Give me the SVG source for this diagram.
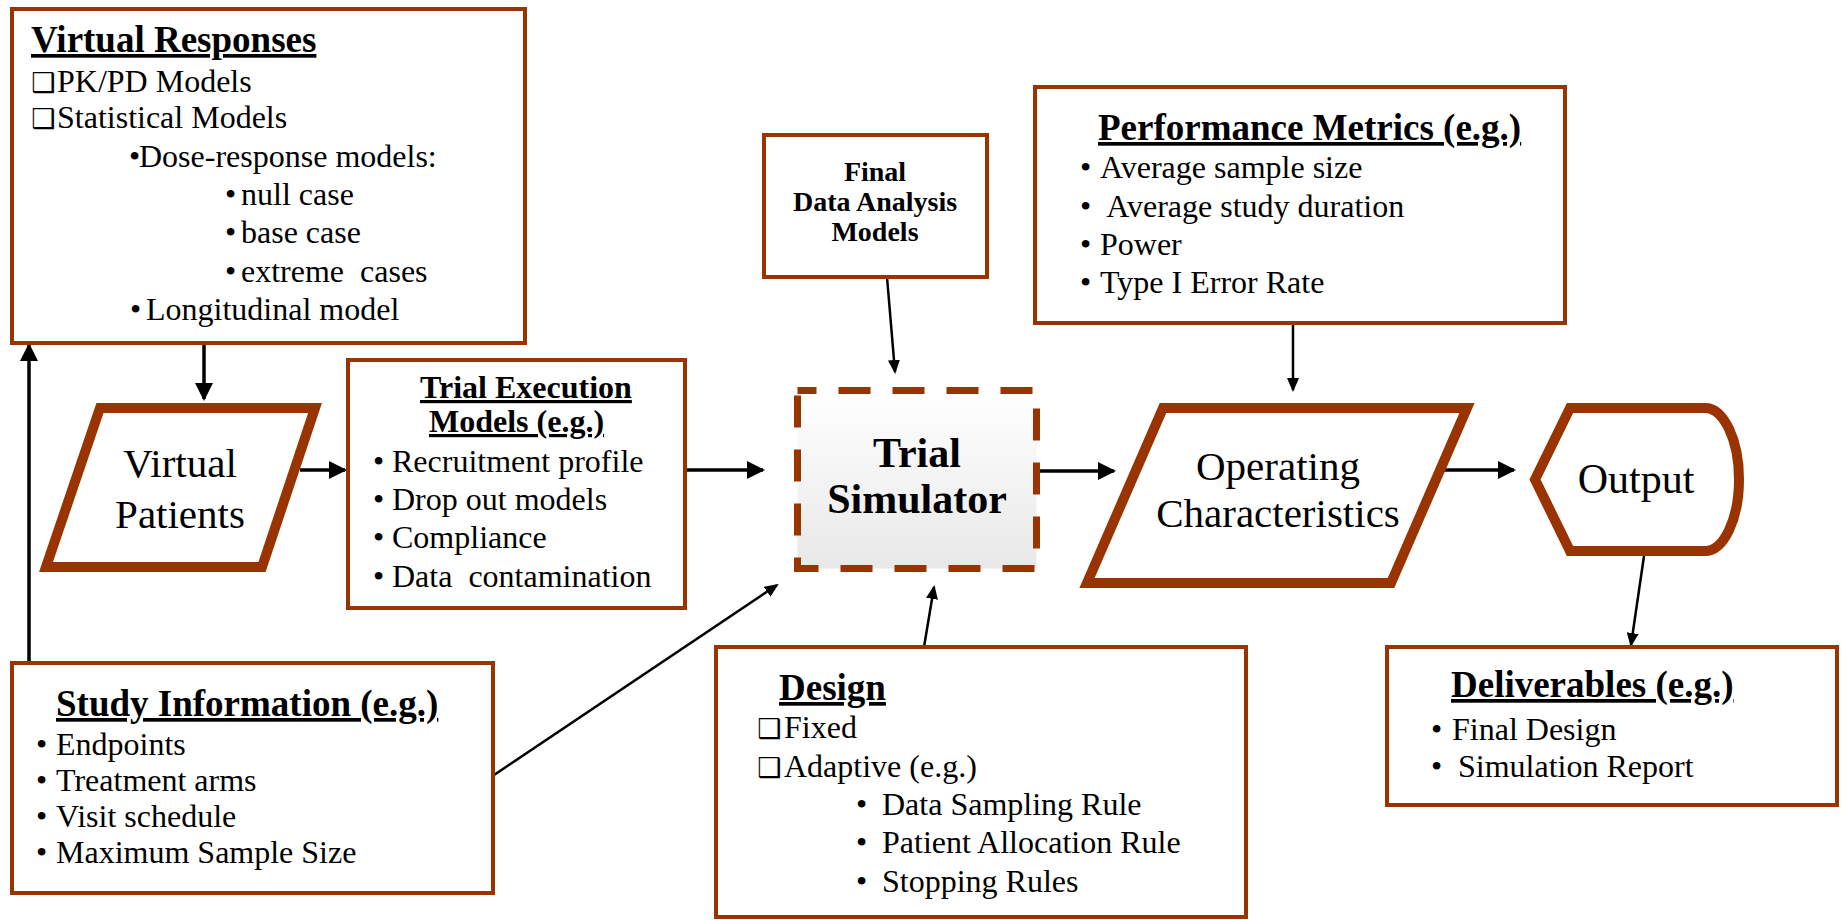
<svg xmlns="http://www.w3.org/2000/svg" width="1843" height="920" viewBox="0 0 1843 920">
<style>
.box{fill:#fff;stroke:#993300;stroke-width:4}
.thick{fill:#fff;stroke:#993300;stroke-width:10;stroke-linejoin:miter}
.dash{fill:url(#tsg);stroke:#993300;stroke-width:7;stroke-dasharray:32 22;stroke-dashoffset:13}
.t{font-family:"Liberation Serif","Times New Roman",serif;font-size:32px;fill:#000;white-space:pre}
.h{font-weight:bold;font-size:37px;text-decoration:underline}
.h2{font-weight:bold;font-size:32px;text-decoration:underline}
.big{font-size:41px}
.bb{font-weight:bold;font-size:42px}
.fd{font-weight:bold;font-size:28px}
.c{text-anchor:middle}
.cb{font-family:"DejaVu Sans",sans-serif;font-size:27px;font-weight:bold}
.con{stroke:#000;fill:none}
.w3{stroke-width:3.5}
.w2{stroke-width:2.5}
</style>
<defs>
<linearGradient id="tsg" x1="0" y1="0" x2="0" y2="1">
<stop offset="0" stop-color="#ffffff"/>
<stop offset="1" stop-color="#e8e8e8"/>
</linearGradient>
<marker id="ah" markerUnits="userSpaceOnUse" markerWidth="18" markerHeight="18" refX="16" refY="9" orient="auto"><path d="M0,0 L18,9 L0,18 z" fill="#000"/></marker>
<marker id="as" markerUnits="userSpaceOnUse" markerWidth="14" markerHeight="12" refX="12" refY="6" orient="auto"><path d="M0,0 L14,6 L0,12 z" fill="#000"/></marker>
</defs>
<rect width="1843" height="920" fill="#fff"/>

<g id="connectors">
<line class="con w3" x1="204" y1="343" x2="204" y2="399" marker-end="url(#ah)"/>
<line class="con w3" x1="29" y1="662" x2="29" y2="345" marker-end="url(#ah)"/>
<line class="con w3" x1="300" y1="470" x2="345" y2="470" marker-end="url(#ah)"/>
<line class="con w3" x1="685" y1="470" x2="763" y2="470" marker-end="url(#ah)"/>
<line class="con w3" x1="1040" y1="471" x2="1114" y2="471" marker-end="url(#ah)"/>
<line class="con w3" x1="1437" y1="470" x2="1514" y2="470" marker-end="url(#ah)"/>
<line class="con w2" x1="887" y1="277" x2="895" y2="372" marker-end="url(#as)"/>
<line class="con w2" x1="1293" y1="323" x2="1293" y2="390" marker-end="url(#as)"/>
<line class="con w2" x1="924" y1="647" x2="934" y2="587" marker-end="url(#as)"/>
<line class="con w2" x1="494" y1="775" x2="777" y2="585" marker-end="url(#as)"/>
<line class="con w2" x1="1644" y1="556" x2="1631" y2="645" marker-end="url(#as)"/>
</g>

<g id="virtual-responses">
<rect class="box" x="12" y="9" width="513" height="334"/>
<text class="t h" x="31" y="52">Virtual Responses</text>
<text class="t" y="92"><tspan class="cb" x="31">❑</tspan><tspan x="57">PK/PD Models</tspan></text>
<text class="t" y="128"><tspan class="cb" x="31">❑</tspan><tspan x="57">Statistical Models</tspan></text>
<text class="t" y="167"><tspan x="129">•</tspan><tspan x="139">Dose-response models:</tspan></text>
<text class="t" y="205"><tspan x="225">•</tspan><tspan x="241">null case</tspan></text>
<text class="t" y="243"><tspan x="225">•</tspan><tspan x="241">base case</tspan></text>
<text class="t" y="282"><tspan x="225">•</tspan><tspan x="241">extreme  cases</tspan></text>
<text class="t" y="320"><tspan x="130">•</tspan><tspan x="146">Longitudinal model</tspan></text>
</g>

<g id="virtual-patients">
<path class="thick" d="M100,408 L315,408 L262,567 L46,567 Z"/>
<text class="t big c" x="180" y="477">Virtual</text>
<text class="t big c" x="180" y="528">Patients</text>
</g>

<g id="trial-execution">
<rect class="box" x="348" y="360" width="337" height="248"/>
<text class="t h2" x="420" y="398">Trial Execution</text>
<text class="t h2" x="429" y="432">Models (e.g.)</text>
<text class="t" y="472"><tspan x="373">•</tspan><tspan x="392">Recruitment profile</tspan></text>
<text class="t" y="510"><tspan x="373">•</tspan><tspan x="392">Drop out models</tspan></text>
<text class="t" y="548"><tspan x="373">•</tspan><tspan x="392">Compliance</tspan></text>
<text class="t" y="587"><tspan x="373">•</tspan><tspan x="392">Data  contamination</tspan></text>
</g>

<g id="final-data-analysis">
<rect class="box" x="764" y="135" width="223" height="142"/>
<text class="t fd c" x="875" y="181">Final</text>
<text class="t fd c" x="875" y="211">Data Analysis</text>
<text class="t fd c" x="875" y="241">Models</text>
</g>

<g id="trial-simulator">
<rect class="dash" x="797.5" y="390.5" width="239" height="178"/>
<text class="t bb c" x="917" y="467">Trial</text>
<text class="t bb c" x="917" y="513">Simulator</text>
</g>

<g id="performance-metrics">
<rect class="box" x="1035" y="87" width="530" height="236"/>
<text class="t h" x="1098" y="140">Performance Metrics (e.g.)</text>
<text class="t" y="178"><tspan x="1080">•</tspan><tspan x="1100">Average sample size</tspan></text>
<text class="t" y="217"><tspan x="1080">•</tspan><tspan x="1100"> Average study duration</tspan></text>
<text class="t" y="255"><tspan x="1080">•</tspan><tspan x="1100">Power</tspan></text>
<text class="t" y="293"><tspan x="1080">•</tspan><tspan x="1100">Type I Error Rate</tspan></text>
</g>

<g id="operating-characteristics">
<path class="thick" d="M1163,408 L1467,408 L1391,583 L1087,583 Z"/>
<text class="t big c" x="1278" y="480">Operating</text>
<text class="t big c" x="1278" y="527">Characteristics</text>
</g>

<g id="output">
<path class="thick" d="M1570,408 L1705,408 A34,71.5 0 0 1 1705,551 L1570,551 L1535,479.5 Z"/>
<text class="t c" style="font-size:42px" x="1636" y="493">Output</text>
</g>

<g id="study-information">
<rect class="box" x="12" y="663" width="481" height="230"/>
<text class="t h" x="56" y="716">Study Information (e.g.)</text>
<text class="t" y="755"><tspan x="36">•</tspan><tspan x="56">Endpoints</tspan></text>
<text class="t" y="791"><tspan x="36">•</tspan><tspan x="56">Treatment arms</tspan></text>
<text class="t" y="827"><tspan x="36">•</tspan><tspan x="56">Visit schedule</tspan></text>
<text class="t" y="863"><tspan x="36">•</tspan><tspan x="56">Maximum Sample Size</tspan></text>
</g>

<g id="design">
<rect class="box" x="716" y="647" width="530" height="270"/>
<text class="t h" x="779" y="700">Design</text>
<text class="t" y="738"><tspan class="cb" x="757">❑</tspan><tspan x="784">Fixed</tspan></text>
<text class="t" y="777"><tspan class="cb" x="757">❑</tspan><tspan x="784">Adaptive (e.g.)</tspan></text>
<text class="t" y="815"><tspan x="856">•</tspan><tspan x="882">Data Sampling Rule</tspan></text>
<text class="t" y="853"><tspan x="856">•</tspan><tspan x="882">Patient Allocation Rule</tspan></text>
<text class="t" y="892"><tspan x="856">•</tspan><tspan x="882">Stopping Rules</tspan></text>
</g>

<g id="deliverables">
<rect class="box" x="1387" y="647" width="450" height="158"/>
<text class="t h" x="1451" y="697">Deliverables (e.g.)</text>
<text class="t" y="740"><tspan x="1431">•</tspan><tspan x="1452">Final Design</tspan></text>
<text class="t" y="777"><tspan x="1431">•</tspan><tspan x="1458">Simulation Report</tspan></text>
</g>
</svg>
